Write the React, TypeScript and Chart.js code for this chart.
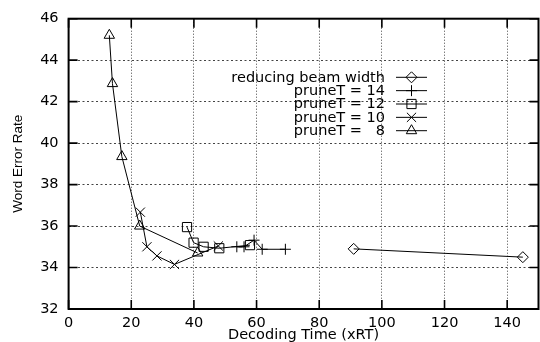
import React, { useEffect, useRef } from 'react';
import { Chart, registerables } from 'chart.js';
import { drawPoint } from 'chart.js/helpers';

Chart.register(...registerables);

// ---- data ----
const beamX = [91, 145];
const beamY = [34.9, 34.5];
const p14X = [53.7, 56, 59.2, 61.8, 69.2];
const p14Y = [35.0, 35.0, 35.32, 34.88, 34.88];
const p12X = [37.8, 39.9, 43.1, 48.1, 57.9];
const p12Y = [35.95, 35.2, 35.0, 34.93, 35.08];
const p10X = [22.9, 25.0, 28.2, 33.8, 47.8];
const p10Y = [36.67, 35.0, 34.56, 34.15, 35.04];
const p8X = [13, 14, 17, 22.7, 41.2];
const p8Y = [45.2, 42.87, 39.35, 36.0, 34.7];

const seriesLabels = [
  'reducing beam width',
  'pruneT = 14',
  'pruneT = 12',
  'pruneT = 10',
  'pruneT =  8',
];
const seriesStyles = ['rectRot', 'cross', 'rect', 'crossRot', 'triangle'];
const seriesRadii = [5.5, 5.5, 6.5, 6.5, 6];

const xTicks = [0, 20, 40, 60, 80, 100, 120, 140];
const yTicks = [32, 34, 36, 38, 40, 42, 44, 46];
const xTitle = 'Decoding Time (xRT)';
const yTitle = 'Word Error Rate';

const FONT = '"DejaVu Sans", sans-serif';

const toPts = (xs: number[], ys: number[]) => xs.map((x, i) => ({ x, y: ys[i] }));

const gnuPlugin = {
  id: 'gnuFrame',
  afterDraw(chart: any) {
    const { ctx, chartArea: a, scales } = chart;
    ctx.save();
    // frame
    ctx.strokeStyle = '#000';
    ctx.lineWidth = 2;
    ctx.setLineDash([]);
    ctx.strokeRect(a.left, a.top, a.right - a.left, a.bottom - a.top);
    // inward ticks on all four sides
    const L = 9;
    ctx.lineWidth = 1.6;
    ctx.beginPath();
    for (const v of xTicks) {
      const px = scales.x.getPixelForValue(v);
      ctx.moveTo(px, a.bottom);
      ctx.lineTo(px, a.bottom - L);
      ctx.moveTo(px, a.top);
      ctx.lineTo(px, a.top + L);
    }
    for (const v of yTicks) {
      const py = scales.y.getPixelForValue(v);
      ctx.moveTo(a.left, py);
      ctx.lineTo(a.left + L, py);
      ctx.moveTo(a.right, py);
      ctx.lineTo(a.right - L, py);
    }
    ctx.stroke();

    // gnuplot-style key: right-aligned text, then line sample with marker
    const textRight = 385;
    const sx0 = 396;
    const sx1 = 427;
    const y0 = 77.3;
    const dy = 13.35;
    ctx.font = '14.5px ' + FONT;
    ctx.textAlign = 'right';
    ctx.textBaseline = 'middle';
    chart.data.datasets.forEach((ds: any, i: number) => {
      const y = y0 + i * dy;
      ctx.fillStyle = '#000';
      // a padding space in the label occupies one digit's width, as in the original key
      const shown = String(ds.label).replace(/ {2}(\d)$/, ' \u2007$1');
      ctx.fillText(shown, textRight, y + 0.5);
      ctx.strokeStyle = '#000';
      ctx.lineWidth = 1;
      ctx.beginPath();
      ctx.moveTo(sx0, y);
      ctx.lineTo(sx1, y);
      ctx.stroke();
      ctx.fillStyle = 'rgba(0,0,0,0)';
      drawPoint(
        ctx,
        { pointStyle: ds.pointStyle, radius: ds.pointRadius, borderWidth: 1, rotation: 0 } as any,
        (sx0 + sx1) / 2,
        y
      );
    });
    ctx.restore();
  },
};

export default function App() {
  const ref = useRef<HTMLCanvasElement | null>(null);

  useEffect(() => {
    if (!ref.current) return;
    const series = [
      toPts(beamX, beamY),
      toPts(p14X, p14Y),
      toPts(p12X, p12Y),
      toPts(p10X, p10Y),
      toPts(p8X, p8Y),
    ];
    const chart = new Chart(ref.current, {
      type: 'scatter',
      data: {
        datasets: series.map((d, i) => ({
          label: seriesLabels[i],
          data: d,
          showLine: true,
          borderColor: '#000',
          borderWidth: 1,
          pointStyle: seriesStyles[i] as any,
          pointRadius: seriesRadii[i],
          pointHoverRadius: seriesRadii[i],
          pointBorderColor: '#000',
          pointBackgroundColor: 'rgba(0,0,0,0)',
          pointBorderWidth: 1,
        })),
      },
      options: {
        animation: false,
        responsive: false,
        devicePixelRatio: 1,
        layout: { padding: { top: 15, right: 4.5, bottom: 0, left: 0 } },
        plugins: { legend: { display: false }, tooltip: { enabled: false } },
        scales: {
          x: {
            type: 'linear',
            min: 0,
            max: 150,
            afterBuildTicks: (s: any) => {
              s.ticks = xTicks.map((v) => ({ value: v }));
            },
            afterFit: (s: any) => {
              s.height = 33;
            },
            ticks: {
              autoSkip: false,
              maxRotation: 0,
              padding: 6,
              color: '#000',
              font: { family: FONT, size: 14.5 },
            },
            grid: { color: '#444', lineWidth: 1, drawTicks: false },
            border: { display: false, dash: [1, 2] },
            title: {
              display: true,
              text: xTitle,
              color: '#000',
              font: { family: FONT, size: 14.5, lineHeight: 1 },
              padding: { top: 0, bottom: 0 },
            },
          },
          y: {
            type: 'linear',
            min: 32,
            max: 46,
            afterBuildTicks: (s: any) => {
              s.ticks = yTicks.map((v) => ({ value: v }));
            },
            afterFit: (s: any) => {
              s.width = 68.6;
            },
            ticks: {
              padding: 10,
              color: '#000',
              font: { family: FONT, size: 14.5 },
            },
            grid: { color: '#444', lineWidth: 1, drawTicks: false },
            border: { display: false, dash: [2, 2.5] },
            title: {
              display: true,
              text: yTitle,
              color: '#000',
              font: { family: '"Liberation Sans", Arial, sans-serif', size: 13.5, lineHeight: 1 },
              padding: { top: 12, bottom: 0 },
            },
          },
        },
      },
      plugins: [gnuPlugin],
    });
    return () => chart.destroy();
  }, []);

  return (
    <div
      style={{
        position: 'fixed',
        left: 0,
        top: 0,
        width: 540,
        height: 342,
        overflow: 'hidden',
        background: '#fff',
      }}
    >
      <canvas ref={ref} width={546} height={342} style={{ display: 'block', width: 546, height: 342 }} />
    </div>
  );
}
